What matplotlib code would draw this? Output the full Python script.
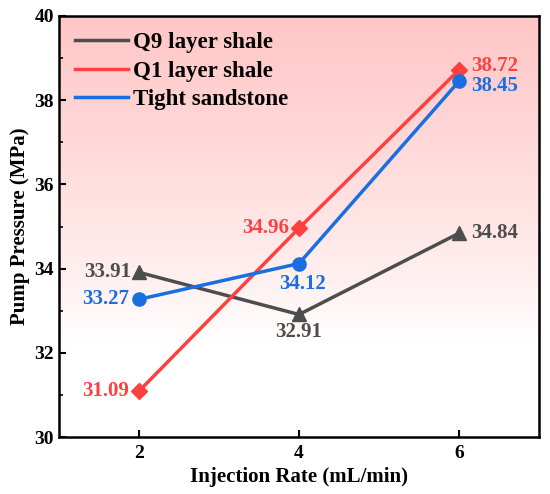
import numpy as np
import matplotlib
matplotlib.use('Agg')
import matplotlib.pyplot as plt
from matplotlib.colors import LinearSegmentedColormap

plt.rcParams['font.family'] = ['Liberation Serif', 'DejaVu Serif']
plt.rcParams['font.weight'] = 'bold'

rates = [2, 4, 6]
q9 = [33.91, 32.91, 34.84]
q1 = [31.09, 34.96, 38.72]
tight = [33.27, 34.12, 38.45]

names = ['Q9 layer shale', 'Q1 layer shale', 'Tight sandstone']
colors = ['#4d4d4d', '#ff4040', '#1a6fe0']
markers = ['^', 'D', 'o']

fig = plt.figure(figsize=(5.5, 4.94), dpi=100)
ax = fig.add_axes([59 / 550, 1 - 437 / 494, 480 / 550, 421 / 494])

# background gradient: pink at top fading to white around y=32.5
cmap = LinearSegmentedColormap.from_list('bg', ['#ffffff', '#ffc6c6'])
yy = np.linspace(30, 40, 256).reshape(-1, 1)
grad = np.clip((yy - 32.3) / 7.7, 0, 1) ** 0.8
ax.imshow(grad, aspect='auto', cmap=cmap, extent=[1, 7, 30, 40], origin='lower',
          zorder=0, vmin=0, vmax=1)

for ys, c, m, n in zip([q9, q1, tight], colors, markers, names):
    ax.plot(rates, ys, color=c, lw=2.5, zorder=3, label=n)
    ax.plot(rates, ys, color=c, ls='none', marker=m, ms=9.5 if m != 'D' else 8, zorder=4)

fs = 15
# Q9 labels
ax.text(1.9, 33.93, '33.91', color=colors[0], fontsize=fs, ha='right', va='center')
ax.text(4, 32.72, '32.91', color=colors[0], fontsize=fs, ha='center', va='top')
ax.text(6.15, 34.84, '34.84', color=colors[0], fontsize=fs, ha='left', va='center')
# Q1 labels
ax.text(1.88, 31.09, '31.09', color=colors[1], fontsize=fs, ha='right', va='center')
ax.text(3.88, 34.96, '34.96', color=colors[1], fontsize=fs, ha='right', va='center')
ax.text(6.15, 38.82, '38.72', color=colors[1], fontsize=fs, ha='left', va='center')
# Tight labels
ax.text(1.88, 33.27, '33.27', color=colors[2], fontsize=fs, ha='right', va='center')
ax.text(4.05, 33.87, '34.12', color=colors[2], fontsize=fs, ha='center', va='top')
ax.text(6.15, 38.33, '38.45', color=colors[2], fontsize=fs, ha='left', va='center')

ax.set_xlim(1, 7)
ax.set_ylim(30, 40)
ax.set_xticks(rates)
ax.set_yticks([30, 32, 34, 36, 38, 40])
ax.set_yticks([31, 33, 35, 37, 39], minor=True)
ax.tick_params(direction='in', width=1.5, length=5, labelsize=14)
ax.tick_params(axis='x', pad=6)
ax.tick_params(which='minor', direction='in', width=1.2, length=3)
for s in ax.spines.values():
    s.set_linewidth(1.8)

ax.set_xlabel('Injection Rate (mL/min)', fontsize=15, fontweight='bold', labelpad=3)
ax.set_ylabel('Pump Pressure (MPa)', fontsize=15, fontweight='bold', labelpad=3)

leg = ax.legend(loc='upper left', frameon=False, fontsize=16.5, handlelength=2.3,
                handletextpad=0.25, borderaxespad=0.3, labelspacing=0.33,
                bbox_to_anchor=(0.0, 1.0))

fig.savefig('out.png', dpi=100)
